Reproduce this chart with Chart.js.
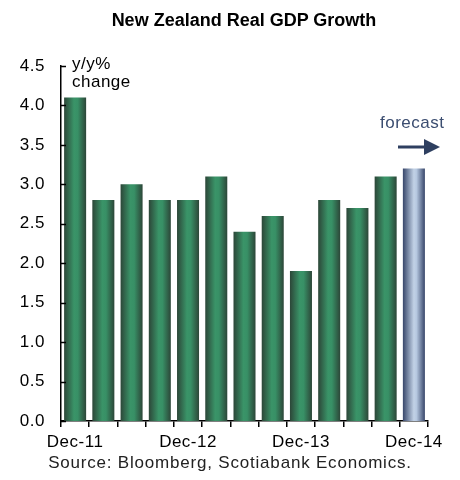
<!DOCTYPE html>
<html>
<head>
<meta charset="utf-8">
<script src="https://cdn.jsdelivr.net/npm/chart.js@4.4.1/dist/chart.umd.min.js"></script>
<style>
  html, body { margin: 0; padding: 0; background: #fff; }
  #wrap { position: relative; width: 460px; height: 480px; }
  #title { position: absolute; left: 0; width: 488px; top: 10px; text-align: center;
           font: bold 18px "Liberation Sans", Arial, sans-serif; color: #000; }
  #source { position: absolute; left: 0; width: 460px; top: 453px; text-align: center;
            font: 17px "Liberation Sans", Arial, sans-serif; letter-spacing: 0.8px; color: #222; }
</style>
</head>
<body>
<div id="wrap">
  <canvas id="gdpChart" width="460" height="480"></canvas>
  <div id="title">New Zealand Real GDP Growth</div>
  <div id="source">Source: Bloomberg, Scotiabank Economics.</div>
</div>
<script>
// quarterly y/y growth, Dec-11 .. Dec-14 (last one is the forecast)
const quarters = ['Dec-11', 'Mar-12', 'Jun-12', 'Sep-12', 'Dec-12', 'Mar-13', 'Jun-13',
                  'Sep-13', 'Dec-13', 'Mar-14', 'Jun-14', 'Sep-14', 'Dec-14'];
const growth = [4.1, 2.8, 3.0, 2.8, 2.8, 3.1, 2.4, 2.6, 1.9, 2.8, 2.7, 3.1, 3.2];
const shownLabels = ['Dec-11', 'Dec-12', 'Dec-13', 'Dec-14'];
const forecastIndex = 12;

const font = '"Liberation Sans", Arial, sans-serif';

// horizontal shading on each bar: dark edges, light middle
const barShading = {
    id: 'barShading',
    beforeDraw(chart) {
        chart.ctx.letterSpacing = '0.5px';
    },
    beforeDatasetsDraw(chart) {
        const ctx = chart.ctx;
        chart.getDatasetMeta(0).data.forEach((bar, i) => {
            const x0 = bar.x - bar.width / 2, x1 = bar.x + bar.width / 2;
            const g = ctx.createLinearGradient(x0, 0, x1, 0);
            if (i === forecastIndex) {
                g.addColorStop(0, '#37466a');
                g.addColorStop(0.5, '#c2d2e6');
                g.addColorStop(0.62, '#b6c8e0');
                g.addColorStop(1, '#37466a');
            } else {
                g.addColorStop(0, '#2c4638');
                g.addColorStop(0.45, '#3a9468');
                g.addColorStop(0.62, '#389066');
                g.addColorStop(1, '#2c4638');
            }
            bar.options.backgroundColor = g;
        });
    },
    afterDraw(chart) {
        const ctx = chart.ctx;
        const y = chart.scales.y;
        const area = chart.chartArea;
        ctx.save();
        // inward tick marks on the value axis
        ctx.strokeStyle = '#000';
        ctx.lineWidth = 1.5;
        y.ticks.forEach(t => {
            const py = Math.round(y.getPixelForValue(t.value)) + 0.5;
            ctx.beginPath();
            ctx.moveTo(area.left, py);
            ctx.lineTo(area.left + 5, py);
            ctx.stroke();
        });
        // axis unit
        ctx.fillStyle = '#000';
        ctx.font = '17px ' + font;
        ctx.letterSpacing = '0.5px';
        ctx.textBaseline = 'alphabetic';
        ctx.fillText('y/y%', 72, 69);
        ctx.fillText('change', 72, 87);
        // forecast note and arrow
        ctx.fillStyle = '#3b4d70';
        ctx.fillText('forecast', 380, 128);
        ctx.strokeStyle = '#2e3f60';
        ctx.lineWidth = 3;
        ctx.beginPath();
        ctx.moveTo(398, 147);
        ctx.lineTo(426, 147);
        ctx.stroke();
        ctx.fillStyle = '#2e3f60';
        ctx.beginPath();
        ctx.moveTo(440, 147);
        ctx.lineTo(424, 139);
        ctx.lineTo(424, 155);
        ctx.closePath();
        ctx.fill();
        ctx.restore();
    }
};

new Chart(document.getElementById('gdpChart'), {
    type: 'bar',
    data: {
        labels: quarters,
        datasets: [{
            data: growth,
            // scriptable so every bar gets its own options object
            backgroundColor: c => c.dataIndex === forecastIndex ? '#b6c8e0' : '#389066',
            borderWidth: 0,
            categoryPercentage: 1,
            barPercentage: 0.78
        }]
    },
    options: {
        responsive: false,
        animation: false,
        layout: { padding: { top: 66, right: 32, left: 0, bottom: 0 } },
        plugins: { legend: { display: false }, tooltip: { enabled: false } },
        scales: {
            x: {
                afterFit: s => { s.height = 59; },
                border: { color: '#000', width: 1.5 },
                grid: { display: true, drawOnChartArea: false, tickLength: 6, color: '#000', lineWidth: 1.5 },
                ticks: {
                    autoSkip: false, maxRotation: 0, color: '#000', padding: 5,
                    font: { family: font, size: 17 },
                    callback: (v, i) => shownLabels.includes(quarters[i]) ? quarters[i] : ''
                }
            },
            y: {
                min: 0, max: 4.5,
                afterFit: s => { s.width = 61; },
                border: { color: '#000', width: 1.5 },
                grid: { display: false, drawTicks: false },
                ticks: {
                    stepSize: 0.5, color: '#000', padding: 16,
                    font: { family: font, size: 17 },
                    callback: v => v.toFixed(1)
                }
            }
        }
    },
    plugins: [barShading]
});
</script>
</body>
</html>
